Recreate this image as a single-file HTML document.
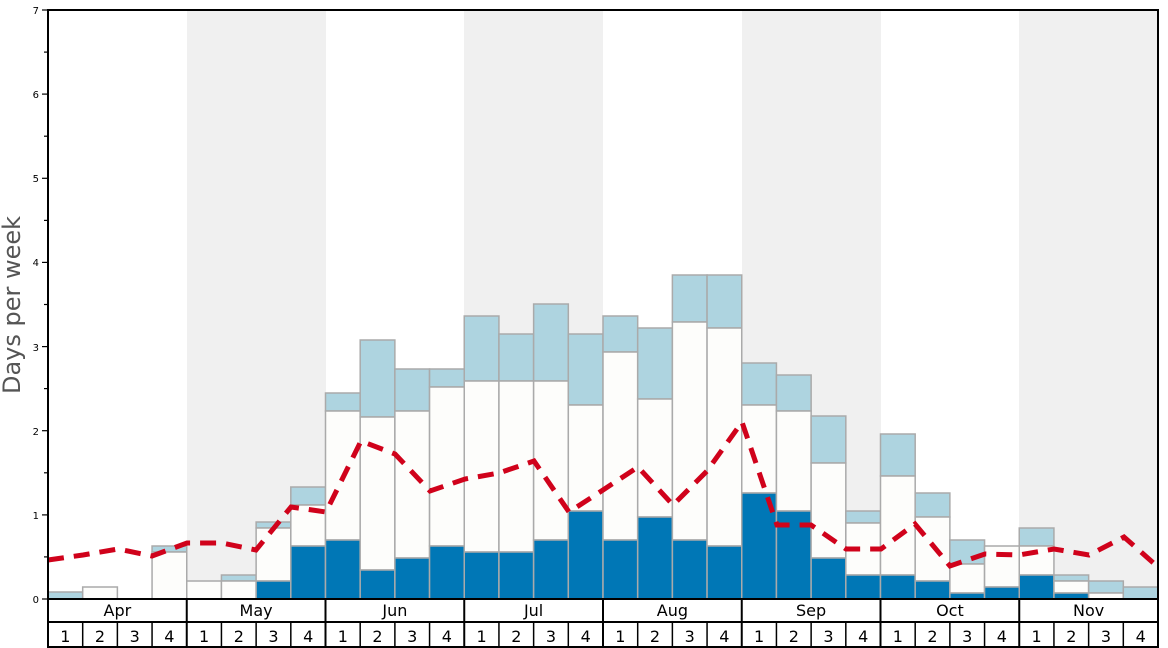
<!DOCTYPE html>
<html><head><meta charset="utf-8"><style>body{margin:0;background:#fff}svg{display:block;font-family:"DejaVu Sans","Liberation Sans",sans-serif}.l{fill:#aed4e0}.w{fill:#fdfdfb}.d{fill:#0077b6}</style></head><body>
<svg width="1168" height="648" viewBox="0 0 1168 648" xmlns="http://www.w3.org/2000/svg">
<rect width="1168" height="648" fill="#fff"/>
<g fill="#f0f0f0">
<rect x="187" y="10" width="139" height="589"/><rect x="464" y="10" width="139" height="589"/>
<rect x="742" y="10" width="139" height="589"/><rect x="1019" y="10" width="139" height="589"/>
</g>
<g stroke="#aaa" stroke-width="1.5">
<rect class="l" x="48" y="592" width="34.69" height="7"/>
<rect class="w" x="82.69" y="587" width="34.69" height="12"/>
<rect class="l" x="152.06" y="546" width="34.69" height="6"/><rect class="w" x="152.06" y="552" width="34.69" height="47"/>
<rect class="w" x="186.75" y="581" width="34.69" height="18"/>
<rect class="l" x="221.44" y="575" width="34.69" height="6"/><rect class="w" x="221.44" y="581" width="34.69" height="18"/>
<rect class="l" x="256.13" y="522" width="34.69" height="6"/><rect class="w" x="256.13" y="528" width="34.69" height="53"/><rect class="d" x="256.13" y="581" width="34.69" height="18"/>
<rect class="l" x="290.81" y="487" width="34.69" height="18"/><rect class="w" x="290.81" y="505" width="34.69" height="41"/><rect class="d" x="290.81" y="546" width="34.69" height="53"/>
<rect class="l" x="325.5" y="393" width="34.69" height="18"/><rect class="w" x="325.5" y="411" width="34.69" height="129"/><rect class="d" x="325.5" y="540" width="34.69" height="59"/>
<rect class="l" x="360.19" y="340" width="34.69" height="77"/><rect class="w" x="360.19" y="417" width="34.69" height="153"/><rect class="d" x="360.19" y="570" width="34.69" height="29"/>
<rect class="l" x="394.88" y="369" width="34.69" height="42"/><rect class="w" x="394.88" y="411" width="34.69" height="147"/><rect class="d" x="394.88" y="558" width="34.69" height="41"/>
<rect class="l" x="429.56" y="369" width="34.69" height="18"/><rect class="w" x="429.56" y="387" width="34.69" height="159"/><rect class="d" x="429.56" y="546" width="34.69" height="53"/>
<rect class="l" x="464.25" y="316" width="34.69" height="65"/><rect class="w" x="464.25" y="381" width="34.69" height="171"/><rect class="d" x="464.25" y="552" width="34.69" height="47"/>
<rect class="l" x="498.94" y="334" width="34.69" height="47"/><rect class="w" x="498.94" y="381" width="34.69" height="171"/><rect class="d" x="498.94" y="552" width="34.69" height="47"/>
<rect class="l" x="533.63" y="304" width="34.69" height="77"/><rect class="w" x="533.63" y="381" width="34.69" height="159"/><rect class="d" x="533.63" y="540" width="34.69" height="59"/>
<rect class="l" x="568.31" y="334" width="34.69" height="71"/><rect class="w" x="568.31" y="405" width="34.69" height="106"/><rect class="d" x="568.31" y="511" width="34.69" height="88"/>
<rect class="l" x="603" y="316" width="34.69" height="36"/><rect class="w" x="603" y="352" width="34.69" height="188"/><rect class="d" x="603" y="540" width="34.69" height="59"/>
<rect class="l" x="637.69" y="328" width="34.69" height="71"/><rect class="w" x="637.69" y="399" width="34.69" height="118"/><rect class="d" x="637.69" y="517" width="34.69" height="82"/>
<rect class="l" x="672.38" y="275" width="34.69" height="47"/><rect class="w" x="672.38" y="322" width="34.69" height="218"/><rect class="d" x="672.38" y="540" width="34.69" height="59"/>
<rect class="l" x="707.06" y="275" width="34.69" height="53"/><rect class="w" x="707.06" y="328" width="34.69" height="218"/><rect class="d" x="707.06" y="546" width="34.69" height="53"/>
<rect class="l" x="741.75" y="363" width="34.69" height="42"/><rect class="w" x="741.75" y="405" width="34.69" height="88"/><rect class="d" x="741.75" y="493" width="34.69" height="106"/>
<rect class="l" x="776.44" y="375" width="34.69" height="36"/><rect class="w" x="776.44" y="411" width="34.69" height="100"/><rect class="d" x="776.44" y="511" width="34.69" height="88"/>
<rect class="l" x="811.13" y="416" width="34.69" height="47"/><rect class="w" x="811.13" y="463" width="34.69" height="95"/><rect class="d" x="811.13" y="558" width="34.69" height="41"/>
<rect class="l" x="845.81" y="511" width="34.69" height="12"/><rect class="w" x="845.81" y="523" width="34.69" height="52"/><rect class="d" x="845.81" y="575" width="34.69" height="24"/>
<rect class="l" x="880.5" y="434" width="34.69" height="42"/><rect class="w" x="880.5" y="476" width="34.69" height="99"/><rect class="d" x="880.5" y="575" width="34.69" height="24"/>
<rect class="l" x="915.19" y="493" width="34.69" height="24"/><rect class="w" x="915.19" y="517" width="34.69" height="64"/><rect class="d" x="915.19" y="581" width="34.69" height="18"/>
<rect class="l" x="949.88" y="540" width="34.69" height="24"/><rect class="w" x="949.88" y="564" width="34.69" height="29"/><rect class="d" x="949.88" y="593" width="34.69" height="6"/>
<rect class="w" x="984.56" y="546" width="34.69" height="41"/><rect class="d" x="984.56" y="587" width="34.69" height="12"/>
<rect class="l" x="1019.25" y="528" width="34.69" height="18"/><rect class="w" x="1019.25" y="546" width="34.69" height="29"/><rect class="d" x="1019.25" y="575" width="34.69" height="24"/>
<rect class="l" x="1053.94" y="575" width="34.69" height="6"/><rect class="w" x="1053.94" y="581" width="34.69" height="12"/><rect class="d" x="1053.94" y="593" width="34.69" height="6"/>
<rect class="l" x="1088.63" y="581" width="34.69" height="12"/><rect class="w" x="1088.63" y="593" width="34.69" height="6"/>
<rect class="l" x="1123.31" y="587" width="34.69" height="12"/>
</g>
<polyline fill="none" stroke="#d0021b" stroke-width="5" stroke-dasharray="16,10" points="48,560 83,555 118,549 152,556 187,543 222,543 256,550 291,507 326,512 361,441 395,454 430,491 465,479 499,473 534,461 569,512 603,490 638,467 673,505 707,471 742,422 777,525 811,525 846,549 881,549 915,524 950,566 985,554 1019,555 1054,549 1089,555 1124,537 1158,567"/>
<g stroke="#000" stroke-width="2" fill="none">
<rect x="48" y="10" width="1110" height="637"/>
<line x1="48" y1="599" x2="1158" y2="599"/><line x1="48" y1="622" x2="1158" y2="622"/>
</g>
<g stroke="#000" stroke-width="2">
<line x1="186.75" y1="599" x2="186.75" y2="647"/><line x1="325.5" y1="599" x2="325.5" y2="647"/><line x1="464.25" y1="599" x2="464.25" y2="647"/><line x1="603" y1="599" x2="603" y2="647"/><line x1="741.75" y1="599" x2="741.75" y2="647"/><line x1="880.5" y1="599" x2="880.5" y2="647"/><line x1="1019.25" y1="599" x2="1019.25" y2="647"/>
</g>
<g stroke="#000" stroke-width="1.5">
<line x1="82.69" y1="622" x2="82.69" y2="647"/><line x1="117.38" y1="622" x2="117.38" y2="647"/><line x1="152.06" y1="622" x2="152.06" y2="647"/>
<line x1="221.44" y1="622" x2="221.44" y2="647"/><line x1="256.13" y1="622" x2="256.13" y2="647"/><line x1="290.81" y1="622" x2="290.81" y2="647"/>
<line x1="360.19" y1="622" x2="360.19" y2="647"/><line x1="394.88" y1="622" x2="394.88" y2="647"/><line x1="429.56" y1="622" x2="429.56" y2="647"/>
<line x1="498.94" y1="622" x2="498.94" y2="647"/><line x1="533.63" y1="622" x2="533.63" y2="647"/><line x1="568.31" y1="622" x2="568.31" y2="647"/>
<line x1="637.69" y1="622" x2="637.69" y2="647"/><line x1="672.38" y1="622" x2="672.38" y2="647"/><line x1="707.06" y1="622" x2="707.06" y2="647"/>
<line x1="776.44" y1="622" x2="776.44" y2="647"/><line x1="811.13" y1="622" x2="811.13" y2="647"/><line x1="845.81" y1="622" x2="845.81" y2="647"/>
<line x1="915.19" y1="622" x2="915.19" y2="647"/><line x1="949.88" y1="622" x2="949.88" y2="647"/><line x1="984.56" y1="622" x2="984.56" y2="647"/>
<line x1="1053.94" y1="622" x2="1053.94" y2="647"/><line x1="1088.63" y1="622" x2="1088.63" y2="647"/><line x1="1123.31" y1="622" x2="1123.31" y2="647"/>
</g>
<g stroke="#000" stroke-width="1.2">
<line x1="42" y1="599" x2="48" y2="599"/><line x1="44" y1="556.9" x2="48" y2="556.9"/><line x1="42" y1="514.9" x2="48" y2="514.9"/><line x1="44" y1="472.8" x2="48" y2="472.8"/><line x1="42" y1="430.7" x2="48" y2="430.7"/><line x1="44" y1="388.6" x2="48" y2="388.6"/><line x1="42" y1="346.6" x2="48" y2="346.6"/><line x1="44" y1="304.5" x2="48" y2="304.5"/><line x1="42" y1="262.4" x2="48" y2="262.4"/><line x1="44" y1="220.4" x2="48" y2="220.4"/><line x1="42" y1="178.3" x2="48" y2="178.3"/><line x1="44" y1="136.2" x2="48" y2="136.2"/><line x1="42" y1="94.1" x2="48" y2="94.1"/><line x1="44" y1="52.1" x2="48" y2="52.1"/><line x1="42" y1="10" x2="48" y2="10"/>
</g>
<g font-size="10" text-anchor="end">
<text x="39" y="603">0</text><text x="39" y="519">1</text><text x="39" y="435">2</text><text x="39" y="351">3</text><text x="39" y="266">4</text><text x="39" y="182">5</text><text x="39" y="98">6</text><text x="39" y="14">7</text>
</g>
<g font-size="16" text-anchor="middle">
<text x="117.4" y="616">Apr</text><text x="256.1" y="616">May</text><text x="394.9" y="616">Jun</text><text x="533.6" y="616">Jul</text><text x="672.4" y="616">Aug</text><text x="811.1" y="616">Sep</text><text x="949.9" y="616">Oct</text><text x="1088.6" y="616">Nov</text>
<text x="65.3" y="642">1</text><text x="100" y="642">2</text><text x="134.7" y="642">3</text><text x="169.4" y="642">4</text>
<text x="204.1" y="642">1</text><text x="238.8" y="642">2</text><text x="273.5" y="642">3</text><text x="308.2" y="642">4</text>
<text x="342.8" y="642">1</text><text x="377.5" y="642">2</text><text x="412.2" y="642">3</text><text x="446.9" y="642">4</text>
<text x="481.6" y="642">1</text><text x="516.3" y="642">2</text><text x="551" y="642">3</text><text x="585.7" y="642">4</text>
<text x="620.3" y="642">1</text><text x="655" y="642">2</text><text x="689.7" y="642">3</text><text x="724.4" y="642">4</text>
<text x="759.1" y="642">1</text><text x="793.8" y="642">2</text><text x="828.5" y="642">3</text><text x="863.2" y="642">4</text>
<text x="897.8" y="642">1</text><text x="932.5" y="642">2</text><text x="967.2" y="642">3</text><text x="1001.9" y="642">4</text>
<text x="1036.6" y="642">1</text><text x="1071.3" y="642">2</text><text x="1106" y="642">3</text><text x="1140.7" y="642">4</text>
</g>
<text transform="translate(20,305) rotate(-90)" font-size="24" fill="#555" text-anchor="middle">Days per week</text>
</svg>
</body></html>
